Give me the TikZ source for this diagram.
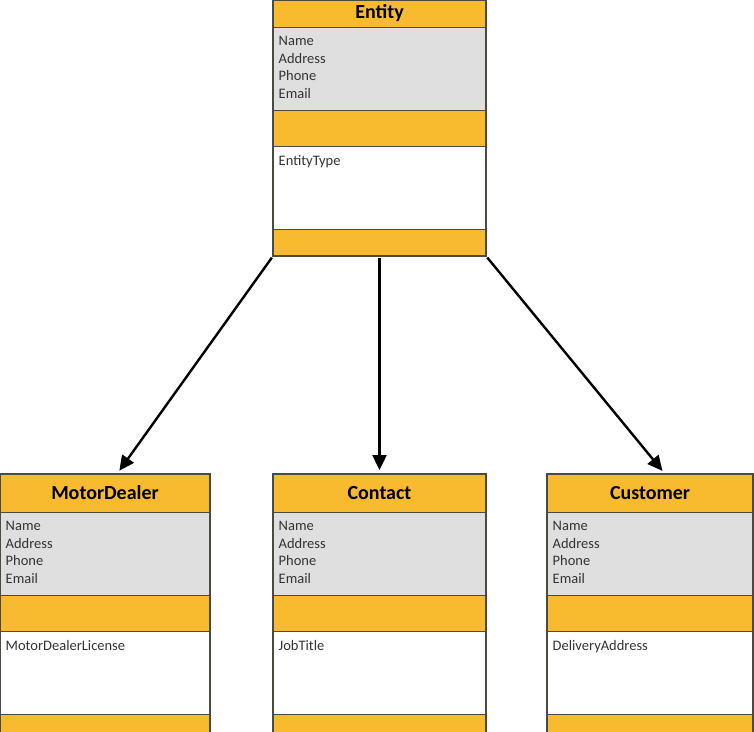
\documentclass[tikz,border=0pt]{standalone}
\usepackage{fontspec}
\setmainfont{Carlito}
\usetikzlibrary{arrows.meta}
\definecolor{umlorange}{HTML}{F8BA2F}
\definecolor{umlgrey}{HTML}{DFDFDF}
\definecolor{umltext}{HTML}{333333}
\definecolor{umlline}{HTML}{4A4A40}

\begin{document}
\begin{tikzpicture}[x=1pt,y=1pt,
	band/.style={draw=umlline, line width=0.9pt, outer sep=0pt, anchor=north west, minimum width=#1},
	titleband/.style={band=#1, fill=umlorange, font=\fontsize{20}{24}\selectfont\bfseries},
	attrtext/.style={anchor=north west, align=left, text=umltext, font=\fontsize{14.5}{17.5}\selectfont},
	arrow/.style={line width=2.4pt, -{Triangle[length=15pt,width=14pt]}, shorten <=2pt, shorten >=4pt}]
	\tikzstyle{every node}+=[inner sep=0pt]
	\useasboundingbox (0,0) rectangle (754,-731);
	\clip (0,0) rectangle (754,-731);
	% class boxes: name / left / top / width / title height / title / attribute
	\foreach \n/\x/\y/\w/\h/\t/\a in {entity/273/0/213/27/Entity/EntityType,
		md/0/474/210/38/MotorDealer/MotorDealerLicense,
		contact/273/474/213/38/Contact/JobTitle,
		customer/547/474/206/38/Customer/DeliveryAddress}{
		\node [titleband=\w pt, minimum height=\h pt] (\n-title) at (\x,-\y) {\t};
		\node [band=\w pt, minimum height=83.5pt, fill=umlgrey] (\n-attr) at (\n-title.south west) {};
		\node [band=\w pt, minimum height=35.5pt, fill=umlorange] (\n-ops) at (\n-attr.south west) {};
		\node [band=\w pt, minimum height=83pt, fill=white] (\n-extra) at (\n-ops.south west) {};
		\node [band=\w pt, minimum height=27pt, fill=umlorange] (\n-end) at (\n-extra.south west) {};
		\draw [umlline, line width=1.4pt] (\n-title.north west) rectangle (\n-end.south east);
		\node [attrtext] (\n-list) at ([xshift=5.5pt,yshift=-9pt]\n-attr.north west) {Name\\Address\\Phone\\Email};
		\node [attrtext] (\n-text) at ([xshift=5.5pt,yshift=-9pt]\n-extra.north west) {\a};
	}
	% inheritance arrows
	\draw [arrow] (entity-end.south west) -- ([xshift=12pt]md-title.north);
	\draw [arrow] (entity-end.south) -- (contact-title.north);
	\draw [arrow] (entity-end.south east) -- ([xshift=15pt]customer-title.north);
\end{tikzpicture}
\end{document}
